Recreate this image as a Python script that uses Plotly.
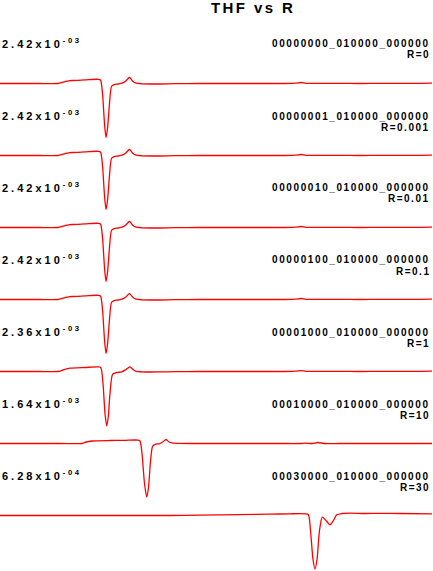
import plotly.graph_objects as go

# ---------------- data ----------------
title_text = "THF vs R"
run_names = ["00000000_010000_000000", "00000001_010000_000000", "00000010_010000_000000",
             "00000100_010000_000000", "00001000_010000_000000", "00010000_010000_000000",
             "00030000_010000_000000"]
r_labels = ["R=0", "R=0.001", "R=0.01", "R=0.1", "R=1", "R=10", "R=30"]
scale_mant = ["2.42", "2.42", "2.42", "2.42", "2.36", "1.64", "6.28"]
scale_exp = ["-03", "-03", "-03", "-03", "-03", "-03", "-04"]

x_r0 = [0, 20, 40, 58, 62, 66, 72, 85, 98, 100.5, 102.5, 104.5, 106, 107.5, 109.5, 111.5, 114, 118,
        122, 125.5, 129.5, 133, 136, 142, 150, 160, 175, 200, 230, 260, 285, 296, 301, 306, 320,
        340, 360, 380, 400, 420, 432]
y_r0 = [0, 0, 0, 0, 1, 2.2, 3.0, 3.6, 4.2, 3.5, -10, -40, -54, -45, -20, -3, -1.2, -0.5,
        0.3, 2.2, 6.0, 2.0, 0.3, -0.3, -0.5, -0.5, -0.2, 0, 0, 0, 0, 0.3, 1.0, 0.2, 0.2,
        0.1, 0, 0.1, 0.2, 0.2, 0.3]
x_r0001 = list(x_r0)
y_r0001 = [0, 0, 0, 0, 1, 2.2, 3.0, 3.6, 4.2, 3.5, -10, -40, -54, -45, -20, -3, -1.2, -0.5,
           0.3, 2.2, 6.0, 2.0, 0.3, -0.3, -0.5, -0.5, -0.2, 0, 0, 0, 0, 0.3, 1.0, 0.2, 0.2,
           0.1, 0, 0.1, 0.2, 0.2, 0.3]
x_r001 = list(x_r0)
y_r001 = [0, 0, 0, 0, 1, 2.2, 3.0, 3.6, 4.2, 3.5, -10, -40, -54, -45, -20, -3, -1.2, -0.5,
          0.3, 2.2, 6.0, 2.0, 0.3, -0.3, -0.5, -0.5, -0.2, 0, 0, 0, 0, 0.3, 1.0, 0.2, 0.2,
          0.1, 0, 0.1, 0.2, 0.2, 0.3]
x_r01 = list(x_r0)
y_r01 = [0, 0, 0, 0, 1, 2.2, 3.0, 3.6, 4.2, 3.5, -10, -40, -54, -45, -20, -3, -1.2, -0.5,
         0.3, 2.2, 5.8, 2.0, 0.3, -0.3, -0.5, -0.5, -0.2, 0, 0, 0, 0, 0.3, 1.0, 0.2, 0.2,
         0.1, 0, 0.1, 0.2, 0.2, 0.3]
x_r1 = [0, 20, 40, 58, 63, 70, 85, 99, 101, 103, 105, 106.7, 108.3, 110, 112.7, 117, 121.7, 126,
        130, 133, 136, 142, 150, 160, 175, 200, 230, 260, 285, 296, 301, 306, 320, 340, 360, 380,
        400, 420, 432]
y_r1 = [0, 0, 0, 0, 1.5, 3.3, 4.0, 4.6, 3.5, -12, -42, -54.5, -45, -22, -2.7, -1, -0.4, 2,
        4.6, 2, 0.2, -0.3, -0.5, -0.4, -0.2, 0, 0, 0, 0, 0.3, 0.9, 0.2, 0.2, 0.1, 0, 0.1,
        0.2, 0.2, 0.3]
x_r10 = [0, 30, 60, 82, 86, 92, 110, 125, 138, 140, 142, 144.5, 146.7, 148.5, 150.5, 152.7, 156,
         159.3, 163, 166, 169, 172, 180, 200, 240, 280, 300, 305, 312, 318, 324, 340, 370, 400, 432]
y_r10 = [0, 0, 0, 0, 1.5, 2.5, 3.0, 3.2, 3.4, 2.5, -10, -40, -53.6, -44, -18, -2.6, -0.6,
         -0.3, 1.8, 4.0, 1.5, 0.7, 0.2, 0, 0, 0, 0, 0.4, 0, 1, 0, 0, 0, 0, 0]
x_r30 = [0, 40, 80, 120, 170, 200, 240, 270, 290, 305, 308.3, 310.5, 313, 315, 317, 319.5, 322.3,
         326, 330, 333.5, 336.7, 342, 350, 365, 380, 400, 432]
y_r30 = [0, 0, 0, 0, 0, 0.3, 0.8, 1.3, 1.7, 1.7, 1.0, -15, -44, -53.6, -44, -15, -1.6,
         -5, -9.3, -5, 0.7, 2, 2.4, 2, 2.2, 2, 1.7]

curves_x = [x_r0, x_r0001, x_r001, x_r01, x_r1, x_r10, x_r30]
curves_y = [y_r0, y_r0001, y_r001, y_r01, y_r1, y_r10, y_r30]

# ---------------- layout ----------------
W, H = 433, 571
FONT = "Liberation Sans, Arial, Helvetica, sans-serif"
baselines_px = [83.5, 155.5, 227.5, 299.5, 371.5, 443.5, 515.5]
lo, hi = -55, 17


def py(px):
    return 1 - px / H


def spaced(txt, ls):
    return f'<span style="letter-spacing:{ls}px">{txt}</span>'


fig = go.Figure()
layout = dict(
    width=W, height=H, margin=dict(l=0, r=0, t=0, b=0),
    paper_bgcolor="white", plot_bgcolor="rgba(0,0,0,0)", showlegend=False,
    hovermode=False,
    xaxis=dict(domain=[0, 1], range=[0, W], visible=False, fixedrange=True),
)
annotations = []
for i, (xs, ys) in enumerate(zip(curves_x, curves_y)):
    assert len(xs) == len(ys)
    ax = "y" if i == 0 else f"y{i+1}"
    key = "yaxis" if i == 0 else f"yaxis{i+1}"
    b = baselines_px[i]
    d0 = max(0.0, py(b - lo))
    d1 = min(1.0, py(b - hi))
    layout[key] = dict(domain=[d0, d1], range=[lo, hi], anchor="x", visible=False, fixedrange=True)
    fig.add_trace(go.Scatter(x=xs, y=ys, mode="lines", xaxis="x", yaxis=ax,
                             line=dict(color="#ff0000", width=1.3, shape="spline", smoothing=0.7)))
    annotations.append(dict(xref="paper", yref="paper", x=0, y=py(b - 40.5),
                            xanchor="left", yanchor="middle",
                            text=spaced(scale_mant[i] + "x10", 3)
                            + "<sup>" + spaced(scale_exp[i], 2.6) + "</sup>",
                            showarrow=False,
                            font=dict(family=FONT, size=11, color="black", weight="bold")))
    annotations.append(dict(xref="paper", yref="paper", x=431.5 / W, y=py(b - 39.5),
                            xanchor="right", yanchor="middle",
                            text=spaced(run_names[i], 1.6), showarrow=False,
                            font=dict(family=FONT, size=10, color="black", weight="bold")))
    annotations.append(dict(xref="paper", yref="paper", x=431.5 / W, y=py(b - 28.5),
                            xanchor="right", yanchor="middle",
                            text=spaced(r_labels[i], 1.5), showarrow=False,
                            font=dict(family=FONT, size=10, color="black", weight="bold")))

annotations.append(dict(xref="paper", yref="paper", x=252.5 / W, y=py(7.5),
                        xanchor="center", yanchor="middle", text=spaced(title_text, 2.4),
                        showarrow=False,
                        font=dict(family=FONT, size=15, color="black", weight="bold")))
layout["annotations"] = annotations
fig.update_layout(**layout)
fig.write_html("out.html", config={"displayModeBar": False})
